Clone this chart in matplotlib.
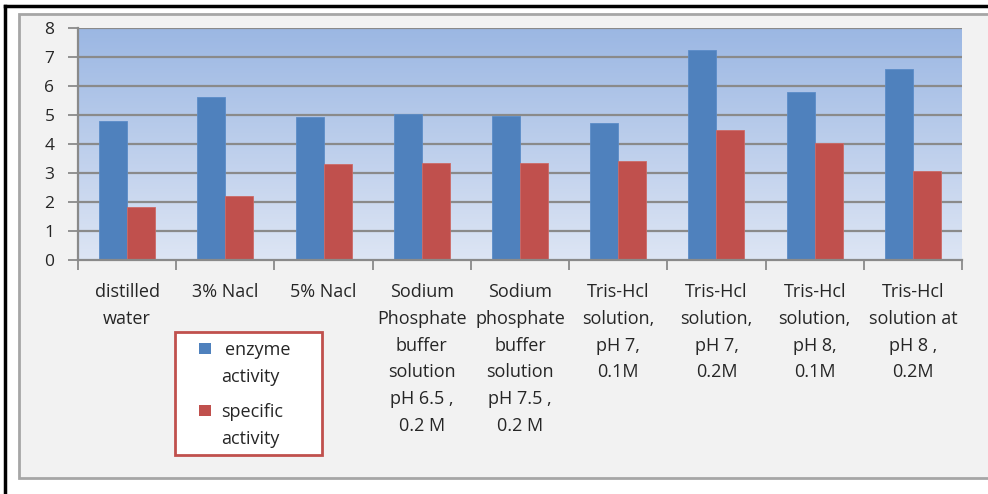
import numpy as np
import matplotlib
matplotlib.use("Agg")
import matplotlib.pyplot as plt
import matplotlib.transforms as mtransforms
from matplotlib.patches import Rectangle
from matplotlib.lines import Line2D
from matplotlib.colors import LinearSegmentedColormap

categories = ["distilled\nwater", "3% Nacl", "5% Nacl",
              "Sodium\nPhosphate\nbuffer\nsolution\npH 6.5 ,\n0.2 M",
              "Sodium\nphosphate\nbuffer\nsolution\npH 7.5 ,\n0.2 M",
              "Tris-Hcl\nsolution,\npH 7,\n0.1M",
              "Tris-Hcl\nsolution,\npH 7,\n0.2M",
              "Tris-Hcl\nsolution,\npH 8,\n0.1M",
              "Tris-Hcl\nsolution at\npH 8 ,\n0.2M"]
enzyme_activity = [4.80, 5.62, 4.93, 5.02, 4.98, 4.74, 7.23, 5.79, 6.59]
specific_activity = [1.84, 2.19, 3.30, 3.36, 3.36, 3.42, 4.47, 4.05, 3.07]
series_names = ["enzyme\nactivity", "specific\nactivity"]
yticks = [0, 1, 2, 3, 4, 5, 6, 7, 8]

FONT = ["Open Sans", "DejaVu Sans"]
plt.rcParams['font.family'] = FONT
TXT = "#262626"

W, H = 988, 494
fig = plt.figure(figsize=(W / 100, H / 100), dpi=100)
fig.patch.set_facecolor("white")

def fx(px): return px / W
def fy(py): return 1 - py / H

# chart area background
fig.patches.append(Rectangle((fx(19), fy(478)), fx(1000) - fx(19), fy(14) - fy(478),
                             transform=fig.transFigure, facecolor="#F2F2F2",
                             edgecolor="#A6A6A6", linewidth=2, zorder=-10))
# black frame lines
fig.lines.append(Line2D([fx(5), fx(990)], [fy(6), fy(6)], transform=fig.transFigure,
                        color="black", linewidth=2.5, zorder=-5))
fig.lines.append(Line2D([fx(5), fx(5)], [fy(6), fy(493)], transform=fig.transFigure,
                        color="black", linewidth=2.5, zorder=-5))

ax = fig.add_axes([fx(78), fy(260), fx(962) - fx(78), fy(28) - fy(260)])
ax.set_facecolor("none")
n = len(categories)
x = np.arange(n)
bw = 0.285
ax.set_xlim(-0.5, n - 0.5)
ax.set_ylim(0, 8)

cmap = LinearSegmentedColormap.from_list("g", ["#DDE5F4", "#9BB7E3"])
grad = np.linspace(0, 1, 256).reshape(-1, 1)
ax.imshow(grad, aspect="auto", cmap=cmap, origin="lower",
          extent=(-0.5, n - 0.5, 0, 8), zorder=0)

for yv in yticks[1:]:
    ax.axhline(yv, color="#8A8A8A", linewidth=1.6, zorder=1)

ax.bar(x - bw / 2, enzyme_activity, bw, color="#4F81BD", edgecolor="#5B8CC8",
       linewidth=0.6, zorder=2)
ax.bar(x + bw / 2, specific_activity, bw, color="#C0504D", edgecolor="#CC6A67",
       linewidth=0.6, zorder=2)

for s in ["top", "right"]:
    ax.spines[s].set_visible(False)
for s in ["left", "bottom"]:
    ax.spines[s].set_color("#8A8A8A")
    ax.spines[s].set_linewidth(1.6)

ax.set_yticks(yticks)
ax.set_yticklabels([str(v) for v in yticks], fontsize=12.5, color=TXT)
ax.tick_params(axis="y", length=7, width=1.3, color="#8A8A8A", pad=10)
ax.set_xticks(np.arange(-0.5, n, 1.0))
ax.set_xticklabels([])
ax.tick_params(axis="x", length=7, width=1.3, color="#8A8A8A")

blend = mtransforms.blended_transform_factory(ax.transData, fig.transFigure)
for i, lab in enumerate(categories):
    for k, line in enumerate(lab.split("\n")):
        ax.text(i, fy(297 + 26.8 * k), line, ha="center", va="baseline",
                fontsize=13, color=TXT, transform=blend, clip_on=False)

# legend
fig.patches.append(Rectangle((fx(175), fy(455)), fx(322) - fx(175), fy(332) - fy(455),
                             transform=fig.transFigure, facecolor="white",
                             edgecolor="#C0504D", linewidth=2, zorder=3))
leg_colors = ["#4F81BD", "#C0504D"]
sq_top = [343, 405]
base1 = [355, 417]
for name, c, st, b in zip(series_names, leg_colors, sq_top, base1):
    fig.patches.append(Rectangle((fx(199), fy(st + 11)), fx(12), fy(0) - fy(11),
                                 transform=fig.transFigure, facecolor=c,
                                 edgecolor="none", zorder=4))
    first, second = name.split("\n")
    x1 = 258 if first == "enzyme" else 252
    fig.text(fx(x1), fy(b), first, ha="center", va="baseline", fontsize=13,
             color=TXT, zorder=5)
    fig.text(fx(250), fy(b + 27), second, ha="center", va="baseline", fontsize=13,
             color=TXT, zorder=5)

fig.savefig("out.png", dpi=100)
